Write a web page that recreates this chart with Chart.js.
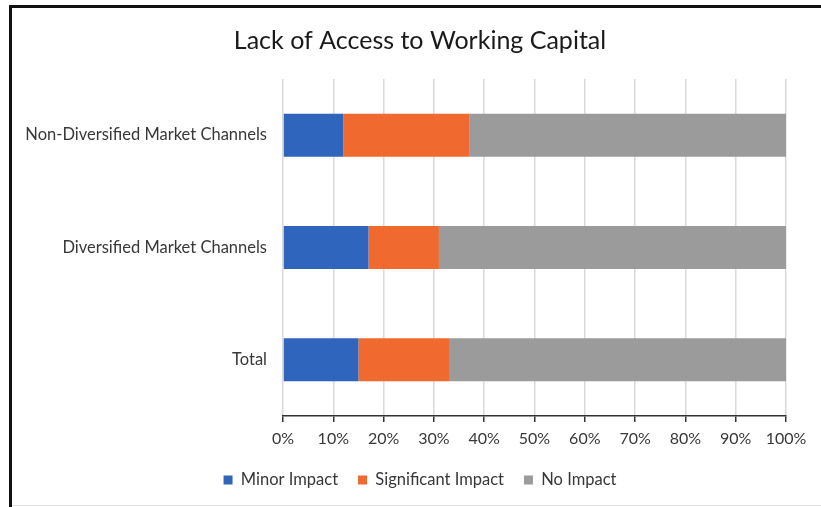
<!DOCTYPE html>
<html>
<head>
<meta charset="utf-8">
<script src="https://cdn.jsdelivr.net/npm/chart.js@4"></script>
<style>
  html, body { margin: 0; padding: 0; background: #fff; }
  #wrap { position: relative; width: 821px; height: 507px; overflow: hidden; }
  #chart { position: absolute; left: 0; top: 0; }
  .frame-top { position: absolute; left: 9px; top: 5px; width: 812px; height: 3px; background: #111; }
  .frame-left { position: absolute; left: 9px; top: 5px; width: 3px; height: 502px; background: #111; }
  .frame-bottom { position: absolute; left: 12px; top: 505px; width: 809px; height: 1px; background: #e4e4e4; }
</style>
</head>
<body>
<div id="wrap">
  <canvas id="chart" width="821" height="507"></canvas>
  <div class="frame-top"></div>
  <div class="frame-left"></div>
  <div class="frame-bottom"></div>
</div>
<script>
(() => {
  'use strict'

  const categories = [
    'Non-Diversified Market Channels',
    'Diversified Market Channels',
    'Total'
  ]
  const minorImpact = [12, 17, 15]
  const significantImpact = [25, 14, 18]
  const noImpact = [63, 69, 67]
  const xTicks = [0, 10, 20, 30, 40, 50, 60, 70, 80, 90, 100]

  const font = 'Lato, "Open Sans", sans-serif'
  const textColor = '#383838'

  // long category names run past the padded left edge, so widen the label clip box
  const unclipLabels = {
    id: 'unclipLabels',
    afterLayout: (chart) => { chart.scales.y.left = 0 }
  }

  const ctx = document.getElementById('chart')
  // eslint-disable-next-line no-unused-vars
  const chart = new Chart(ctx, {
    type: 'bar',
    data: {
      labels: categories,
      datasets: [
        { label: 'Minor Impact', data: minorImpact, backgroundColor: '#2f65bd' },
        { label: 'Significant Impact', data: significantImpact, backgroundColor: '#f0692f' },
        { label: 'No Impact', data: noImpact, backgroundColor: '#9b9b9b' }
      ]
    },
    plugins: [unclipLabels],
    options: {
      indexAxis: 'y',
      responsive: false,
      animation: false,
      datasets: {
        bar: { categoryPercentage: 1, barPercentage: 0.383 }
      },
      layout: {
        padding: { left: 54, right: 35, top: 8, bottom: 8.75 }
      },
      plugins: {
        title: {
          display: true,
          text: 'Lack of Access to Working Capital',
          color: '#1a1a1a',
          font: { family: font, size: 25, weight: 'normal' },
          padding: { top: 18, bottom: 23 }
        },
        legend: {
          position: 'bottom',
          labels: {
            color: textColor,
            font: { family: font, size: 16.5 },
            boxWidth: 9,
            boxHeight: 9,
            padding: 20
          }
        },
        tooltip: { enabled: false }
      },
      scales: {
        x: {
          stacked: true,
          min: 0,
          max: 100,
          afterBuildTicks: (scale) => {
            scale.ticks = xTicks.map(v => ({ value: v }))
          },
          afterFit: (scale) => { scale.height = 35.75 },
          grid: {
            color: '#d9d9d9',
            tickColor: '#333',
            tickLength: 6,
            lineWidth: 1.5
          },
          border: { display: true, color: '#333', width: 1.5 },
          ticks: {
            color: textColor,
            font: { family: font, size: 16 },
            padding: 7,
            maxRotation: 0,
            callback: (v) => v + '%'
          }
        },
        y: {
          stacked: true,
          afterFit: (scale) => { scale.width = 229 },
          grid: { display: false, drawTicks: false },
          border: { display: false },
          ticks: {
            color: textColor,
            font: { family: font, size: 16.5 },
            padding: 16
          }
        }
      }
    }
  })
})()
</script>
</body>
</html>
